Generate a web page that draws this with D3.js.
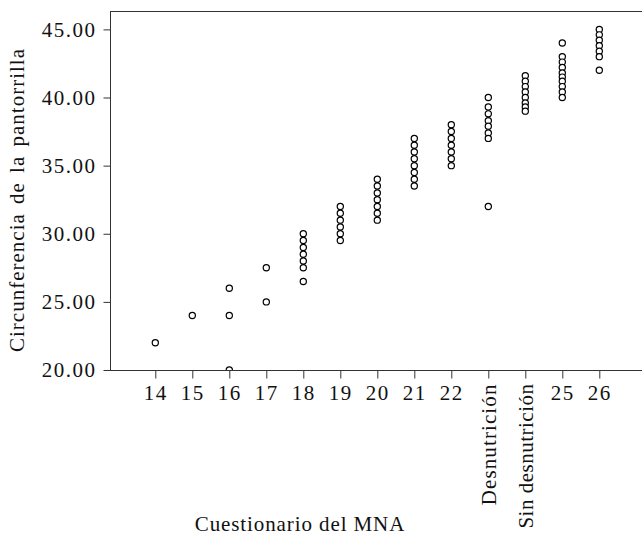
<!DOCTYPE html>
<html><head><meta charset="utf-8">
<script src="https://cdn.jsdelivr.net/npm/d3@7"></script>
<style>
html,body{margin:0;padding:0;background:#fff;}
svg{display:block;font-family:"Liberation Serif","Times New Roman",serif;}
</style></head>
<body>
<svg id="chart" width="642" height="535"></svg>
<script>
const categories = ["14","15","16","17","18","19","20","21","22","Desnutrición","Sin desnutrición","25","26"];
const rotatedLabels = ["Desnutrición","Sin desnutrición"];
const vals14 = [22];
const vals15 = [24];
const vals16 = [26, 24, 20];
const vals17 = [27.5, 25];
const vals18 = [30, 29.5, 29, 28.5, 28, 27.5, 26.5];
const vals19 = [32, 31.5, 31, 30.5, 30, 29.5];
const vals20 = [34, 33.5, 33, 32.5, 32, 31.5, 31];
const vals21 = [37, 36.5, 36, 35.5, 35, 34.5, 34, 33.5];
const vals22 = [38, 37.5, 37, 36.5, 36, 35.5, 35];
const valsDes = [40, 39.3, 38.8, 38.3, 37.9, 37.4, 37, 32];
const valsSin = [41.6, 41.2, 40.8, 40.4, 40, 39.6, 39.3, 39];
const vals25 = [44, 43, 42.6, 42.2, 41.8, 41.5, 41.2, 40.8, 40.4, 40];
const vals26 = [45, 44.6, 44.2, 43.8, 43.4, 43, 42];
const seriesValues = [vals14, vals15, vals16, vals17, vals18, vals19, vals20, vals21, vals22, valsDes, valsSin, vals25, vals26];
const yTicks = [20, 25, 30, 35, 40, 45];
const xTitle = "Cuestionario del MNA";
const yTitle = "Circunferencia de la pantorrilla";

const svg = d3.select("#chart");
const plotLeft = 110, plotTop = 11, plotBottom = 370, plotRight = 700;
const fs = 21;

const x = d3.scalePoint().domain(categories).range([155.3, 599.3]);
const y = d3.scaleLinear().domain([20, 46.35]).range([plotBottom, plotTop]);

const points = [];
categories.forEach((c, i) => seriesValues[i].forEach(v => points.push({c, v})));

svg.append("defs").append("clipPath").attr("id", "clip")
  .append("rect").attr("x", plotLeft).attr("y", plotTop)
  .attr("width", plotRight - plotLeft).attr("height", plotBottom - plotTop);

// frame
svg.append("rect").attr("x", plotLeft + 0.5).attr("y", plotTop + 0.5)
  .attr("width", plotRight - plotLeft).attr("height", plotBottom - plotTop)
  .attr("fill", "none").attr("stroke", "#333").attr("stroke-width", 1);

// y axis
const yAxis = d3.axisLeft(y).tickValues(yTicks).tickSize(7).tickPadding(7)
  .tickFormat(d3.format(".2f"));
const gy = svg.append("g").attr("transform", `translate(${plotLeft + 0.5},0)`).call(yAxis);
gy.select(".domain").remove();
gy.selectAll(".tick line").attr("stroke", "#333");
gy.selectAll(".tick text").attr("fill", "#111").style("font-size", fs + "px")
  .style("letter-spacing", "1.5px").style("font-family", "'Liberation Serif',serif");

// x axis
const xAxis = d3.axisBottom(x).tickSize(8).tickPadding(7);
const gx = svg.append("g").attr("transform", `translate(0,${plotBottom + 0.5})`).call(xAxis);
gx.select(".domain").remove();
gx.selectAll(".tick line").attr("stroke", "#333");
gx.selectAll(".tick text").attr("fill", "#111").style("font-size", fs + "px")
  .style("letter-spacing", "1.5px").style("font-family", "'Liberation Serif',serif");
gx.selectAll(".tick text").filter(d => rotatedLabels.includes(d))
  .attr("transform", "rotate(-90)")
  .attr("x", -13).attr("y", 7).attr("dy", "0")
  .style("text-anchor", "end")
  .style("letter-spacing", d => d === "Sin desnutrición" ? "0.5px" : "1.1px");

// points
svg.append("g").attr("clip-path", "url(#clip)")
  .selectAll("circle").data(points).join("circle")
  .attr("cx", d => x(d.c)).attr("cy", d => y(d.v)).attr("r", 3.1)
  .attr("fill", "#fff").attr("stroke", "#000").attr("stroke-width", 1.2);

// titles
svg.append("text").attr("x", 300).attr("y", 531)
  .attr("text-anchor", "middle").attr("fill", "#111")
  .style("font-size", fs + "px").style("letter-spacing", "0.9px")
  .text(xTitle);
svg.append("text").attr("transform", "translate(24,200) rotate(-90)")
  .attr("text-anchor", "middle").attr("fill", "#111")
  .style("font-size", fs + "px").style("letter-spacing", "1.0px").style("word-spacing", "3px")
  .text(yTitle);
</script>
</body></html>
